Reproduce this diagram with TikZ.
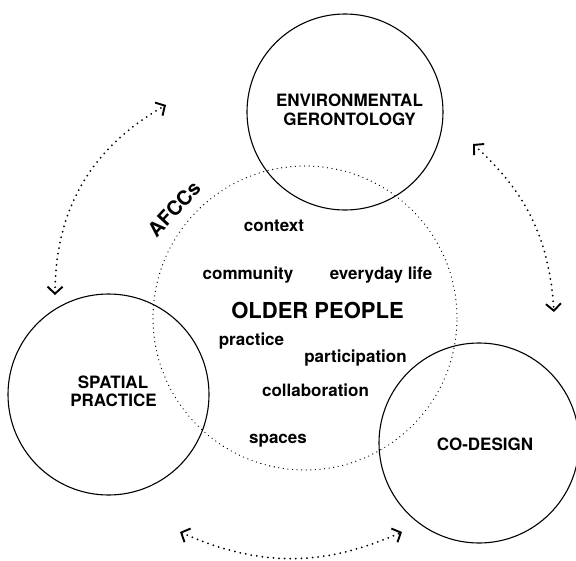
\documentclass[tikz,border=0pt]{standalone}
\usepackage{fontspec}
\setmainfont{TeX Gyre Heros}
\usetikzlibrary{arrows.meta}
\begin{document}
\begin{tikzpicture}[x=1pt,y=-1pt,
  bigcircle/.style={circle,draw,line width=1.1pt,inner sep=0pt},
  dotcircle/.style={circle,draw,line width=1.3pt,dash pattern=on 0pt off 4.6pt,line cap=round,inner sep=0pt,minimum size=304pt},
  chev/.tip={Straight Barb[length=7pt,width=15pt,line width=1.9pt]},
  link/.style={line width=2pt,dash pattern=on 0pt off 5.6pt,line cap=round,chev-chev},
  word/.style={font=\fontsize{17}{20}\selectfont\bfseries,anchor=base,inner sep=0pt},
  circtext/.style={font=\fontsize{17}{19}\selectfont\bfseries,align=center,inner sep=0pt},
]
\useasboundingbox (0,0) rectangle (576,560);
% circles
\node[dotcircle] (afcc) at (305,318) {};
\node[bigcircle,minimum size=196pt] (eg) at (345,112) {};
\node[bigcircle,minimum size=201pt] (sp) at (108.5,394.5) {};
\node[bigcircle,minimum size=200pt] (cd) at (479,443) {};
% circle labels
\node[circtext,anchor=base] (egA) at (349.5,106.7) {ENVIRONMENTAL};
\node[circtext,anchor=base] (egB) at (349.5,125) {GERONTOLOGY};
\node[circtext,anchor=base] (spA) at (113,388) {SPATIAL};
\node[circtext,anchor=base] (spB) at (113.5,406) {PRACTICE};
\node[circtext,anchor=base] (cdA) at (485,450) {CO-DESIGN};
% AFCCs
\node[font=\fontsize{20}{22}\selectfont\bfseries,rotate=47,inner sep=0pt] (afcctxt) at (174,209) {AFCCs};
% words
\node[word] (w1) at (274,231) {context};
\node[word] (w2) at (248,279) {community};
\node[word] (w3) at (381,279) {everyday life};
\node[word,font=\fontsize{22}{24}\selectfont\bfseries] (w4) at (317.5,318) {OLDER PEOPLE};
\node[word] (w5) at (251.5,345) {practice};
\node[word] (w6) at (355.5,362) {participation};
\node[word] (w7) at (315.5,396) {collaboration};
\node[word] (w8) at (278,443) {spaces};
% arrows
\coordinate (l1) at (55,295);
\coordinate (l2) at (166,105);
\coordinate (r1) at (473,144);
\coordinate (r2) at (554,312);
\coordinate (b1) at (180,532);
\coordinate (b2) at (402,532);
\draw[link] (l1) to[bend left=30] (l2);
\draw[link] (r1) to[bend left=22] (r2);
\draw[link] (b1) to[bend right=24] (b2);
\end{tikzpicture}
\end{document}
